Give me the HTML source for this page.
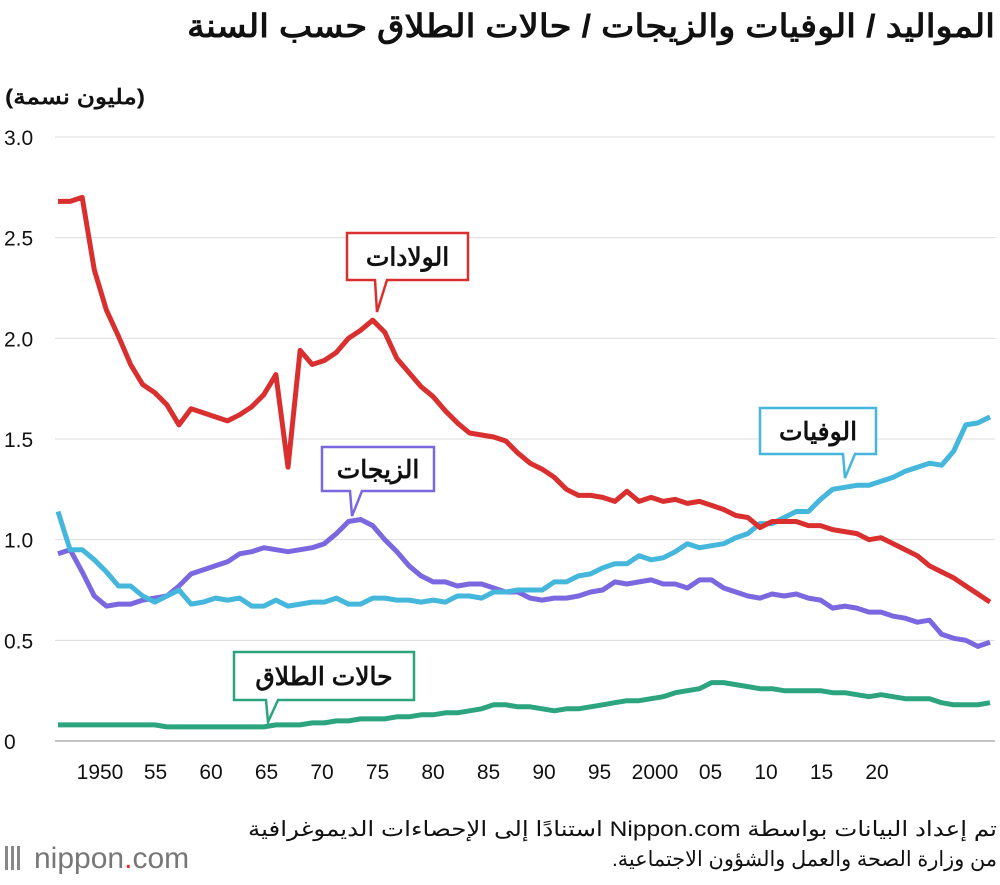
<!DOCTYPE html>
<html><head><meta charset="utf-8">
<style>
body{margin:0;background:#fff;width:1000px;height:880px;overflow:hidden;font-family:"Liberation Sans","Noto Sans CJK SC",sans-serif;}
</style></head>
<body>
<svg id="c" width="1000" height="880" xmlns="http://www.w3.org/2000/svg">
<text x="995" y="37" text-anchor="start" font-size="32" font-weight="bold" fill="#111" direction="rtl" textLength="808" lengthAdjust="spacingAndGlyphs">المواليد / الوفيات والزيجات / حالات الطلاق حسب السنة</text>
<text x="145" y="104" text-anchor="start" font-size="21" font-weight="bold" fill="#111" direction="rtl" textLength="140" lengthAdjust="spacingAndGlyphs">(مليون نسمة)</text>
<g id="grid"></g><g id="lines"></g><g id="labels"></g>
<text x="997" y="836" text-anchor="start" font-size="21" fill="#111" direction="rtl" textLength="749" lengthAdjust="spacingAndGlyphs">تم إعداد البيانات بواسطة Nippon.com استنادًا إلى الإحصاءات الديموغرافية</text>
<text x="997" y="866" text-anchor="start" font-size="21" fill="#111" direction="rtl" textLength="385" lengthAdjust="spacingAndGlyphs">من وزارة الصحة والعمل والشؤون الاجتماعية.</text>
<g>
<rect x="5" y="846" width="3" height="24" fill="#888"/><rect x="11" y="846" width="3" height="24" fill="#888"/><rect x="17" y="846" width="3" height="24" fill="#888"/>
<text x="34" y="868" font-size="30" fill="#777">nippon<tspan fill="#d9302f">.</tspan>com</text></g>
</svg>
<script>
const years=[];for(let y=1947;y<=2024;y++)years.push(y);
const births=[2.68,2.68,2.70,2.34,2.14,2.01,1.87,1.77,1.73,1.67,1.57,1.65,1.63,1.61,1.59,1.62,1.66,1.72,1.82,1.36,1.94,1.87,1.89,1.93,2.00,2.04,2.09,2.03,1.90,1.83,1.76,1.71,1.64,1.58,1.53,1.52,1.51,1.49,1.43,1.38,1.35,1.31,1.25,1.22,1.22,1.21,1.19,1.24,1.19,1.21,1.19,1.20,1.18,1.19,1.17,1.15,1.12,1.11,1.06,1.09,1.09,1.09,1.07,1.07,1.05,1.04,1.03,1.00,1.01,0.98,0.95,0.92,0.87,0.84,0.81,0.77,0.73,0.69];
const deaths=[1.14,0.95,0.95,0.90,0.84,0.77,0.77,0.72,0.69,0.72,0.75,0.68,0.69,0.71,0.70,0.71,0.67,0.67,0.70,0.67,0.68,0.69,0.69,0.71,0.68,0.68,0.71,0.71,0.70,0.70,0.69,0.70,0.69,0.72,0.72,0.71,0.74,0.74,0.75,0.75,0.75,0.79,0.79,0.82,0.83,0.86,0.88,0.88,0.92,0.90,0.91,0.94,0.98,0.96,0.97,0.98,1.01,1.03,1.08,1.08,1.11,1.14,1.14,1.20,1.25,1.26,1.27,1.27,1.29,1.31,1.34,1.36,1.38,1.37,1.44,1.57,1.58,1.61];
const marriages=[0.93,0.95,0.84,0.72,0.67,0.68,0.68,0.70,0.71,0.72,0.77,0.83,0.85,0.87,0.89,0.93,0.94,0.96,0.95,0.94,0.95,0.96,0.98,1.03,1.09,1.10,1.07,1.00,0.94,0.87,0.82,0.79,0.79,0.77,0.78,0.78,0.76,0.74,0.74,0.71,0.70,0.71,0.71,0.72,0.74,0.75,0.79,0.78,0.79,0.80,0.78,0.78,0.76,0.80,0.80,0.76,0.74,0.72,0.71,0.73,0.72,0.73,0.71,0.70,0.66,0.67,0.66,0.64,0.64,0.62,0.61,0.59,0.60,0.53,0.51,0.50,0.47,0.49];
const divorces=[0.08,0.08,0.08,0.08,0.08,0.08,0.08,0.08,0.08,0.07,0.07,0.07,0.07,0.07,0.07,0.07,0.07,0.07,0.08,0.08,0.08,0.09,0.09,0.10,0.10,0.11,0.11,0.11,0.12,0.12,0.13,0.13,0.14,0.14,0.15,0.16,0.18,0.18,0.17,0.17,0.16,0.15,0.16,0.16,0.17,0.18,0.19,0.20,0.20,0.21,0.22,0.24,0.25,0.26,0.29,0.29,0.28,0.27,0.26,0.26,0.25,0.25,0.25,0.25,0.24,0.24,0.23,0.22,0.23,0.22,0.21,0.21,0.21,0.19,0.18,0.18,0.18,0.19];
const yTicks=[0,0.5,1.0,1.5,2.0,2.5,3.0];
const yTickLabels=["0","0.5","1.0","1.5","2.0","2.5","3.0"];
const xTickLabels=["1950","55","60","65","70","75","80","85","90","95","2000","05","10","15","20"];
const NS="http://www.w3.org/2000/svg";
const X=y=>58+(y-1947)*(932/77);
const Y=v=>741-v*(604/3);
function mk(t,a,p){const e=document.createElementNS(NS,t);for(const k in a)e.setAttribute(k,a[k]);p.appendChild(e);return e;}
const grid=document.getElementById('grid');
yTicks.forEach((v,i)=>{
 const l=mk('line',{x1:55,x2:995,y1:Y(v),y2:Y(v),stroke:v===0?'#888':'#ddd','stroke-width':1},grid);
 
 
 const t=mk('text',{x:4,y:Y(v)+8,'font-size':21,fill:'#111'},grid);t.textContent=yTickLabels[i];
 
 
});
xTickLabels.forEach((s,i)=>{
 const t=mk('text',{x:100+i*55.5,y:779,'font-size':21,fill:'#111','text-anchor':'middle'},grid);t.textContent=s;
 
 
});
const lines=document.getElementById('lines');
[[divorces,'#2ca57e','divorces-line'],[marriages,'#7b68e0','marriages-line'],[deaths,'#45b6dc','deaths-line'],[births,'#d9302f','births-line']].forEach(([d,c,n])=>{
 const p=mk('path',{d:d.map((v,i)=>(i?'L':'M')+X(years[i]).toFixed(1)+','+Y(v).toFixed(1)).join(''),fill:'none',stroke:c,'stroke-width':5,'stroke-linejoin':'round'},lines);
 
 
});
const labels=document.getElementById('labels');
[[347,233,121,47,377,312,'#d9302f','الولادات','births-callout'],[322,447,112,44,352,516,'#7b68e0','الزيجات','marriages-callout'],[760,408,116,46,845,478,'#45b6dc','الوفيات','deaths-callout'],[234,652,180,48,268,722,'#2ca57e','حالات الطلاق','divorces-callout']].forEach(([x,y,w,h,px,py,c,s,n])=>{
 const g=mk('g',{},labels);
 
 
 mk('path',{d:`M${x},${y}H${x+w}V${y+h}H${px+10}L${px},${py}L${px-2},${y+h}H${x}Z`,fill:'#fff',stroke:c,'stroke-width':2.5},g);
 const t=mk('text',{x:x+w/2,y:y+h/2+9,'font-size':25,'font-weight':'bold',fill:'#111','text-anchor':'middle',direction:'rtl'},g);t.textContent=s;
});
</script>
</body></html>
